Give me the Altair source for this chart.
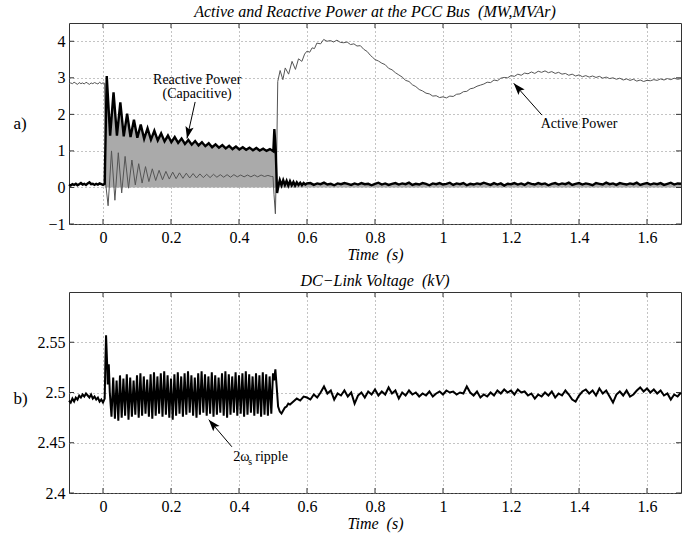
import math
import numpy as np
import pandas as pd
import altair as alt

FONT = "Liberation Serif"
W, H = 612, 201
X_DOM = [-0.1, 1.7]
YA_DOM = [-1.0, 4.5]
YB_DOM = [2.4, 2.6]

x_ticks = [0, 0.2, 0.4, 0.6, 0.8, 1, 1.2, 1.4, 1.6]
ya_ticks = [-1, 0, 1, 2, 3, 4]
yb_ticks = [2.4, 2.45, 2.5, 2.55]

# ---------------- Panel a) Reactive power (MVAr) ----------------
# pre-fault, every 5 ms from -0.1 s
q_pre = [0.08, 0.05, 0.09, 0.07, 0.10, 0.06, 0.09, 0.12, 0.08, 0.10, 0.07,
         0.11, 0.14, 0.09, 0.10, 0.07, 0.10, 0.08, 0.11, 0.09, 0.07, 0.10]
# during fault: peaks at 0.011+0.02k, troughs at 0.021+0.02k
q_peaks = [3.05, 2.60, 2.33, 2.02, 1.85, 1.72, 1.62, 1.55, 1.48, 1.42, 1.38, 1.34, 1.30,
           1.27, 1.24, 1.21, 1.18, 1.16, 1.14, 1.12, 1.10, 1.09, 1.08, 1.06, 1.05]
q_troughs = [1.42, 1.42, 1.40, 1.38, 1.36, 1.33, 1.31, 1.29, 1.26, 1.24, 1.22, 1.19, 1.17,
             1.15, 1.13, 1.10, 1.09, 1.07, 1.05, 1.04, 1.03, 1.02, 1.01, 1.00, 0.99]
# fault clearing
q_clear_t = [0.504, 0.508, 0.512, 0.516, 0.520, 0.525, 0.530, 0.535, 0.540, 0.545, 0.550,
             0.555, 0.560, 0.565, 0.570, 0.575, 0.580, 0.585, 0.590, 0.595, 0.600]
q_clear = [1.60, 1.00, -0.15, 0.05, 0.20, 0.06, 0.20, 0.07, 0.18, 0.05, 0.17,
           0.06, 0.15, 0.05, 0.14, 0.07, 0.13, 0.06, 0.12, 0.08, 0.11]
# post-fault, every 10 ms from 0.61 s
q_post = [0.12, 0.07, 0.11, 0.09, 0.13, 0.08, 0.10, 0.06, 0.11, 0.09,
          0.12, 0.10, 0.07, 0.11, 0.08, 0.12, 0.09, 0.10, 0.06, 0.10,
          0.13, 0.08, 0.11, 0.07, 0.10, 0.12, 0.08, 0.11, 0.09, 0.13,
          0.07, 0.10, 0.08, 0.12, 0.10, 0.06, 0.11, 0.09, 0.12, 0.08,
          0.10, 0.13, 0.07, 0.11, 0.09, 0.12, 0.06, 0.10, 0.08, 0.11,
          0.09, 0.13, 0.10, 0.07, 0.12, 0.08, 0.11, 0.05, 0.10, 0.09,
          0.12, 0.08, 0.11, 0.07, 0.13, 0.10, 0.08, 0.12, 0.09, 0.11,
          0.06, 0.10, 0.12, 0.08, 0.11, 0.09, 0.13, 0.07, 0.10, 0.12,
          0.08, 0.11, 0.09, 0.06, 0.12, 0.10, 0.08, 0.13, 0.09, 0.11,
          0.07, 0.12, 0.10, 0.08, 0.11, 0.09, 0.13, 0.07, 0.10, 0.12,
          0.08, 0.11, 0.09, 0.12, 0.07, 0.10, 0.13, 0.08, 0.11, 0.10]

# ---------------- Panel a) Active power (MW) ----------------
p_pre = [2.83, 2.86, 2.84, 2.88, 2.85, 2.82, 2.87, 2.84, 2.86, 2.83, 2.88,
         2.85, 2.82, 2.86, 2.84, 2.87, 2.85, 2.83, 2.88, 2.84, 2.86, 2.85]
p_drop_t = [0.008]
p_drop = [0.10]
# troughs at 0.015+0.02k, peaks at 0.025+0.02k
p_troughs = [-0.50, -0.35, -0.15, -0.02, 0.07, 0.12, 0.16, 0.19, 0.21, 0.23, 0.24, 0.25, 0.26,
             0.26, 0.27, 0.27, 0.28, 0.28, 0.28, 0.29, 0.29, 0.29, 0.29, 0.30, 0.30]
p_peaks = [1.00, 0.95, 0.85, 0.75, 0.65, 0.57, 0.51, 0.47, 0.44, 0.42, 0.40, 0.39,
           0.38, 0.37, 0.36, 0.36, 0.35, 0.35, 0.35, 0.34, 0.34, 0.34, 0.34, 0.33]
p_clear_t = [0.500, 0.503, 0.507, 0.511, 0.514, 0.521, 0.529, 0.536, 0.546, 0.556,
             0.566, 0.575, 0.585, 0.593, 0.600, 0.608, 0.615, 0.622, 0.629, 0.640,
             0.649, 0.659, 0.669, 0.678, 0.688, 0.698, 0.708, 0.718, 0.728, 0.738,
             0.747, 0.757, 0.767, 0.777, 0.786, 0.793]
p_clear = [0.30, -0.20, -0.72, 1.00, 2.90, 3.20, 2.95, 3.27, 3.10, 3.45,
           3.23, 3.52, 3.45, 3.65, 3.73, 3.70, 3.82, 3.80, 3.95, 3.93,
           4.05, 4.00, 4.02, 3.98, 4.03, 3.97, 3.96, 3.98, 3.91, 3.93,
           3.87, 3.88, 3.78, 3.72, 3.62, 3.56]
# every 10 ms from 0.80 s
p_post = [3.50, 3.46, 3.40, 3.36, 3.26, 3.22, 3.14, 3.08, 3.02, 2.93,
          2.90, 2.81, 2.76, 2.68, 2.64, 2.58, 2.56, 2.50, 2.51, 2.46,
          2.48, 2.45, 2.50, 2.49, 2.55, 2.56, 2.62, 2.63, 2.70, 2.72,
          2.77, 2.80, 2.83, 2.88, 2.87, 2.94, 2.92, 2.99, 3.01, 3.00,
          3.06, 3.04, 3.10, 3.07, 3.13, 3.11, 3.16, 3.12, 3.18, 3.15,
          3.19, 3.14, 3.17, 3.12, 3.15, 3.10, 3.12, 3.07, 3.10, 3.05,
          3.08, 3.03, 3.06, 3.02, 3.05, 3.01, 3.04, 2.99, 3.02, 2.98,
          3.00, 2.96, 2.99, 2.94, 2.97, 2.93, 2.96, 2.91, 2.94, 2.90,
          2.93, 2.92, 2.95, 2.93, 2.97, 2.94, 2.98, 2.95, 2.99, 2.96,
          2.98]

# ---------------- Panel b) DC-link voltage (kV) ----------------
v_pre = [2.492, 2.490, 2.494, 2.491, 2.495, 2.493, 2.497, 2.495, 2.498, 2.496, 2.499,
         2.497, 2.495, 2.498, 2.494, 2.496, 2.493, 2.495, 2.491, 2.493, 2.490, 2.494]
v_spike_t = [0.007, 0.009, 0.012, 0.014, 0.017, 0.020]
v_spike = [2.530, 2.557, 2.530, 2.508, 2.528, 2.500]
# 2*ws ripple: troughs at 0.025+0.01k, peaks at 0.030+0.01k
v_troughs = [2.476, 2.474, 2.472, 2.475, 2.477, 2.473, 2.476, 2.478, 2.475, 2.477, 2.479, 2.476,
             2.474, 2.477, 2.479, 2.476, 2.478, 2.475, 2.473, 2.477, 2.479, 2.476, 2.478, 2.480,
             2.477, 2.475, 2.478, 2.480, 2.477, 2.479, 2.476, 2.478, 2.480, 2.477, 2.475, 2.478,
             2.480, 2.477, 2.479, 2.476, 2.478, 2.480, 2.477, 2.479, 2.476, 2.478, 2.477, 2.479]
v_peaks = [2.515, 2.512, 2.517, 2.514, 2.518, 2.515, 2.512, 2.517, 2.519, 2.516, 2.513, 2.518,
           2.520, 2.516, 2.519, 2.521, 2.517, 2.514, 2.518, 2.520, 2.516, 2.519, 2.521, 2.517,
           2.515, 2.519, 2.521, 2.518, 2.516, 2.520, 2.517, 2.515, 2.519, 2.521, 2.518, 2.516,
           2.520, 2.517, 2.519, 2.521, 2.518, 2.516, 2.519, 2.517, 2.520, 2.518, 2.516, 2.519]
v_clear_t = [0.503, 0.507, 0.511, 0.515, 0.520, 0.525, 0.530, 0.535, 0.540, 0.545, 0.550]
v_clear = [2.512, 2.523, 2.505, 2.486, 2.481, 2.479, 2.482, 2.485, 2.486, 2.489, 2.488]
# every 10 ms from 0.56 s
v_post = [2.491, 2.494, 2.492, 2.496, 2.495, 2.493, 2.498, 2.495, 2.500, 2.506,
          2.499, 2.502, 2.493, 2.499, 2.497, 2.502, 2.496, 2.500, 2.489, 2.497,
          2.500, 2.495, 2.501, 2.498, 2.503, 2.497, 2.501, 2.498, 2.505, 2.499,
          2.502, 2.494, 2.500, 2.497, 2.502, 2.498, 2.500, 2.496, 2.499, 2.497,
          2.501, 2.496, 2.499, 2.501, 2.498, 2.502, 2.500, 2.501, 2.498, 2.500,
          2.499, 2.506, 2.500, 2.497, 2.501, 2.495, 2.498, 2.496, 2.500, 2.497,
          2.502, 2.499, 2.503, 2.500, 2.502, 2.498, 2.503, 2.500, 2.501, 2.497,
          2.499, 2.494, 2.498, 2.496, 2.500, 2.497, 2.501, 2.495, 2.499, 2.497,
          2.502, 2.498, 2.493, 2.491, 2.497, 2.501, 2.503, 2.499, 2.502, 2.497,
          2.504, 2.499, 2.502, 2.496, 2.490, 2.498, 2.501, 2.497, 2.502, 2.496,
          2.498, 2.502, 2.505, 2.501, 2.504, 2.500, 2.503, 2.499, 2.502, 2.497,
          2.499, 2.493, 2.498, 2.496, 2.500]

# ---------------- annotations ----------------
ann_a_text = ["Reactive Power", "(Capacitive)", "Active Power"]
ann_a_t = [0.277, 0.277, 1.40]
ann_a_v = [2.94, 2.555, 1.75]
arr_a_t0 = [0.271, 1.291]
arr_a_v0 = [2.34, 1.98]
arr_a_t1 = [0.247, 1.208]
arr_a_v1 = [1.34, 2.85]
arr_b_t0 = [0.379]
arr_b_v0 = [2.446]
arr_b_t1 = [0.311]
arr_b_v1 = [2.473]


def times(start, step, n):
    return list(np.round(start + step * np.arange(n), 4))


def interleave(a, b):
    out = []
    for i in range(max(len(a), len(b))):
        if i < len(a):
            out.append(a[i])
        if i < len(b):
            out.append(b[i])
    return out


q_fault = interleave(q_peaks, q_troughs)
q_t = (times(-0.1, 0.005, len(q_pre)) + times(0.011, 0.01, len(q_fault)) + q_clear_t
       + times(0.61, 0.01, len(q_post)))
q_v = q_pre + q_fault + q_clear + q_post
df_q = pd.DataFrame({"t": q_t, "v": q_v})
df_area = df_q[df_q["t"] >= 0.005]

p_fault = interleave(p_troughs, p_peaks)
p_t = (times(-0.1, 0.005, len(p_pre)) + p_drop_t + times(0.015, 0.01, len(p_fault)) + p_clear_t
       + times(0.80, 0.01, len(p_post)))
p_v = p_pre + p_drop + p_fault + p_clear + p_post
df_p = pd.DataFrame({"t": p_t, "v": p_v})

v_rip = interleave(v_troughs, v_peaks)
v_t = (times(-0.1, 0.005, len(v_pre)) + v_spike_t + times(0.025, 0.005, len(v_rip)) + v_clear_t
       + times(0.56, 0.01, len(v_post)))
v_v = v_pre + v_spike + v_rip + v_clear + v_post
df_v = pd.DataFrame({"t": v_t, "v": v_v})


def arrow_df(t0, v0, t1, v1, ydom):
    rows = []
    for a, b, c, d in zip(t0, v0, t1, v1):
        dx = (c - a) * W / (X_DOM[1] - X_DOM[0])
        dy = -(d - b) * H / (ydom[1] - ydom[0])
        ang = math.degrees(math.atan2(dx, -dy)) % 360
        rows.append({"t0": a, "v0": b, "t1": c, "v1": d, "ang": ang})
    return pd.DataFrame(rows)


ARROW = "M0,0 L0.7,2 L0,1.6 L-0.7,2 Z"
XT_Y = 22

xs = alt.Scale(domain=X_DOM, nice=False, zero=False)


def x_enc(field="t", title_y=XT_Y):
    return alt.X(f"{field}:Q", scale=xs,
                 axis=alt.Axis(values=x_ticks, format="~g", title="Time\u00a0\u00a0(s)",
                               titleFontStyle="italic", titleY=title_y, titleBaseline="top",
                               labelPadding=5))


def y_enc(ydom, ticks, label, field="v", title_y=100):
    return alt.Y(f"{field}:Q", scale=alt.Scale(domain=ydom, nice=False, zero=False),
                 axis=alt.Axis(values=ticks, format="~g", title=label, titleAngle=0,
                               titleX=-56, titleY=title_y, titleAlign="left",
                               titleBaseline="middle", titleFontSize=17, labelPadding=4))


def tick_layers(ydom, yticks, label, title_y):
    X = x_enc()
    Y = y_enc(ydom, yticks, label, title_y=title_y)
    dfx = pd.DataFrame({"t": x_ticks})
    dfy = pd.DataFrame({"v": yticks})
    c = "#333333"
    return [
        alt.Chart(dfx).mark_rule(color=c, strokeWidth=1).encode(x=X, y=alt.value(H), y2=alt.value(H - 5)),
        alt.Chart(dfx).mark_rule(color=c, strokeWidth=1).encode(x=X, y=alt.value(0), y2=alt.value(5)),
        alt.Chart(dfy).mark_rule(color=c, strokeWidth=1).encode(y=Y, x=alt.value(0), x2=alt.value(5)),
        alt.Chart(dfy).mark_rule(color=c, strokeWidth=1).encode(y=Y, x=alt.value(W - 5), x2=alt.value(W)),
    ]


# ---------------- top panel ----------------
XA = x_enc()
YA = y_enc(YA_DOM, ya_ticks, "a)", title_y=100)

area = alt.Chart(df_area).mark_area(color="#aaaaaa", opacity=1).encode(x=XA, y=YA, y2=alt.datum(0))
p_line = alt.Chart(df_p).mark_line(color="#555555", strokeWidth=1).encode(x=XA, y=YA)
q_line = alt.Chart(df_q).mark_line(color="black", strokeWidth=2.4).encode(x=XA, y=YA)

df_ann_a = pd.DataFrame({"t": ann_a_t, "v": ann_a_v, "label": ann_a_text})
txt_a = alt.Chart(df_ann_a).mark_text(font=FONT, fontSize=14, color="black", align="center",
                                      baseline="middle").encode(x=XA, y=YA, text="label:N")
adf_a = arrow_df(arr_a_t0, arr_a_v0, arr_a_t1, arr_a_v1, YA_DOM)
shaft_a = alt.Chart(adf_a).mark_rule(color="black", strokeWidth=1).encode(
    x=x_enc("t0"), x2="t1:Q", y=y_enc(YA_DOM, ya_ticks, "a)", "v0"), y2="v1:Q")
head_a = alt.Chart(adf_a).mark_point(shape=ARROW, filled=True, size=140, color="black", opacity=1,
                                     strokeWidth=0).encode(
    x=x_enc("t1"), y=y_enc(YA_DOM, ya_ticks, "a)", "v1"), angle=alt.Angle("ang:Q", scale=None))

top = alt.layer(area, p_line, q_line, *tick_layers(YA_DOM, ya_ticks, "a)", 100),
                shaft_a, head_a, txt_a).properties(
    width=W, height=H,
    title=alt.TitleParams("Active and Reactive Power at the PCC Bus\u00a0\u00a0(MW,MVAr)"))

# ---------------- bottom panel ----------------
XB = x_enc()
YB = y_enc(YB_DOM, yb_ticks, "b)", title_y=106)
v_line = alt.Chart(df_v).mark_line(color="black", strokeWidth=2).encode(x=XB, y=YB)

adf_b = arrow_df(arr_b_t0, arr_b_v0, arr_b_t1, arr_b_v1, YB_DOM)
shaft_b = alt.Chart(adf_b).mark_rule(color="black", strokeWidth=1).encode(
    x=x_enc("t0"), x2="t1:Q", y=y_enc(YB_DOM, yb_ticks, "b)", "v0", 106), y2="v1:Q")
head_b = alt.Chart(adf_b).mark_point(shape=ARROW, filled=True, size=140, color="black", opacity=1,
                                     strokeWidth=0).encode(
    x=x_enc("t1"), y=y_enc(YB_DOM, yb_ticks, "b)", "v1", 106), angle=alt.Angle("ang:Q", scale=None))

df_rip = pd.DataFrame({"t": [0.383, 0.448], "v": [2.4362, 2.4362], "label": ["2ω", "ripple"]})
df_sub = pd.DataFrame({"t": [0.427], "v": [2.431], "label": ["s"]})
txt_b = alt.Chart(df_rip).mark_text(font=FONT, fontSize=14, color="black", align="left",
                                    baseline="middle").encode(x=XB, y=YB, text="label:N")
sub_b = alt.Chart(df_sub).mark_text(font=FONT, fontSize=10, color="black", align="left",
                                    baseline="middle").encode(x=XB, y=YB, text="label:N")

bottom = alt.layer(v_line, *tick_layers(YB_DOM, yb_ticks, "b)", 106),
                   shaft_b, head_b, txt_b, sub_b).properties(
    width=W, height=H,
    title=alt.TitleParams("DC\u2212Link Voltage\u00a0\u00a0(kV)"))

chart = alt.vconcat(top, bottom, spacing=9,
                    padding={"left": 12, "top": 3, "right": 10, "bottom": 2}).configure_axis(
    labelFont=FONT, labelFontSize=16, labelColor="black",
    titleFont=FONT, titleFontSize=16, titleColor="black", titleFontWeight="normal",
    grid=True, gridColor="#888888", gridDash=[1, 3], gridWidth=1,
    domain=False, ticks=False,
).configure_view(stroke="#333333", strokeWidth=1).configure_title(
    font=FONT, fontSize=16, fontStyle="italic", fontWeight="normal", color="black",
    anchor="middle", offset=3)

chart.save("out.html", embed_options={"renderer": "svg", "actions": False})
